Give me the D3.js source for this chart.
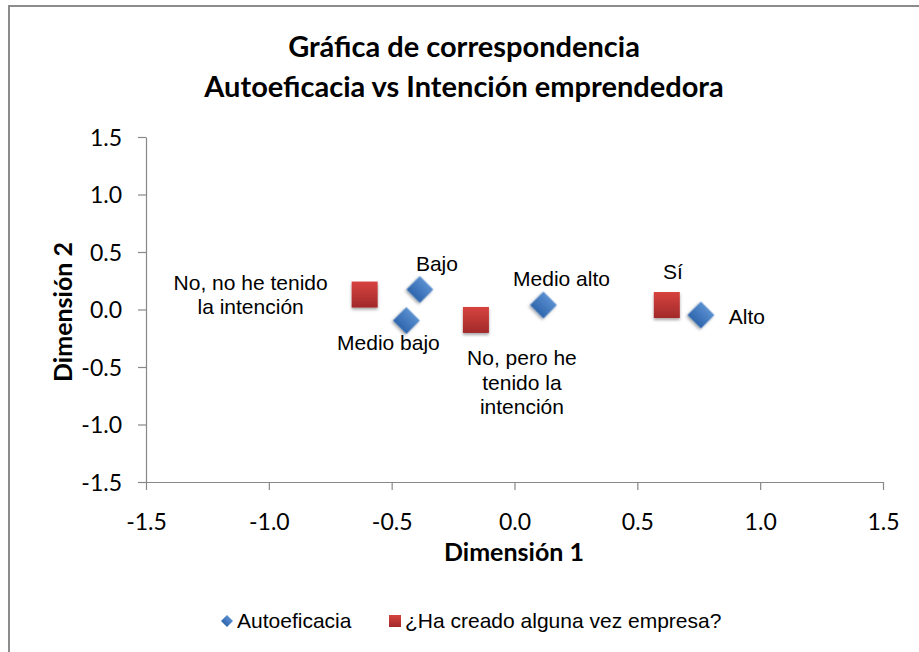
<!DOCTYPE html>
<html><head><meta charset="utf-8">
<script src="https://cdn.jsdelivr.net/npm/d3@7/dist/d3.min.js"></script>
<style>body{margin:0;background:#fff}svg{display:block}</style>
</head><body>
<script>
// Data
const autoLabels = ["Bajo", "Medio bajo", "Medio alto", "Alto"];
const autoX = [-0.385, -0.44, 0.118, 0.759];
const autoY = [0.174, -0.096, 0.039, -0.048];
const empLabels = ["No, no he tenido|la intención", "No, pero he|tenido la|intención", "Sí"];
const empX = [-0.61, -0.157, 0.62];
const empY = [0.13, -0.091, 0.039];
const xTicks = [-1.5, -1.0, -0.5, 0.0, 0.5, 1.0, 1.5];
const yTicks = [-1.5, -1.0, -0.5, 0.0, 0.5, 1.0, 1.5];
const seriesNames = ["Autoeficacia", "¿Ha creado alguna vez empresa?"];
const titleLines = ["Gráfica de correspondencia", "Autoeficacia vs Intención emprendedora"];

const W = 919, H = 652;
const svg = d3.select("body").append("svg").attr("width", W).attr("height", H);
const defs = svg.append("defs");
const gb = defs.append("linearGradient").attr("id","gBlue").attr("x1",0).attr("y1",0).attr("x2",0).attr("y2",1);
gb.append("stop").attr("offset","0%").attr("stop-color","#5a8fd0");
gb.append("stop").attr("offset","100%").attr("stop-color","#2f66ad");
const gr = defs.append("linearGradient").attr("id","gRed").attr("x1",0).attr("y1",0).attr("x2",0).attr("y2",1);
gr.append("stop").attr("offset","0%").attr("stop-color","#d6433f");
gr.append("stop").attr("offset","100%").attr("stop-color","#a2292a");
const f = defs.append("filter").attr("id","shadow").attr("x","-50%").attr("y","-50%").attr("width","200%").attr("height","200%");
f.append("feDropShadow").attr("dx",0).attr("dy",2).attr("stdDeviation",1.5).attr("flood-color","#000").attr("flood-opacity",0.35);

// outer border
svg.append("rect").attr("x",9).attr("y",6).attr("width",W).attr("height",H)
  .attr("fill","#fff").attr("stroke","#8c8c8c").attr("stroke-width",2);

const x = d3.scaleLinear().domain([-1.5,1.5]).range([146,883]);
const y = d3.scaleLinear().domain([-1.5,1.5]).range([482,137]);

// Title
const calibri = "Lato, 'Open Sans', sans-serif";
svg.append("g").selectAll("text").data(titleLines).join("text")
  .attr("x", 464).attr("y",(d,i)=>57+i*40).attr("text-anchor","middle")
  .attr("font-family",calibri).attr("font-weight","bold").attr("font-size",29).attr("fill","#000")
  .text(d=>d);

// Axes
const xAxis = d3.axisBottom(x).tickValues(xTicks).tickFormat(d3.format(".1f")).tickSize(8).tickSizeOuter(0);
const yAxis = d3.axisLeft(y).tickValues(yTicks).tickFormat(d3.format(".1f")).tickSize(8).tickSizeOuter(0);
const gx = svg.append("g").attr("transform",`translate(0,${y(-1.5)})`).call(xAxis);
const gy = svg.append("g").attr("transform",`translate(${x(-1.5)},0)`).call(yAxis);
[gx,gy].forEach(g=>{
  g.select(".domain").attr("stroke","#888").attr("stroke-width",1.2);
  g.selectAll(".tick line").attr("stroke","#888").attr("stroke-width",1.2);
  g.selectAll(".tick text").attr("font-family",calibri).attr("font-size",23).attr("fill","#000");
});
gx.selectAll(".tick text").attr("dy","0").attr("y",48);
gy.selectAll(".tick text").attr("x",-24).attr("dy","0.35em");
gx.selectAll(".tick text").text(d=>d3.format(".1f")(d).replace("−","-"));
gy.selectAll(".tick text").text(d=>d3.format(".1f")(d).replace("−","-"));

// Axis titles
svg.append("text").attr("x",514).attr("y",561).attr("text-anchor","middle")
  .attr("font-family",calibri).attr("font-weight","bold").attr("font-size",25).text("Dimensión 1");
svg.append("text").attr("transform","translate(72,312) rotate(-90)").attr("text-anchor","middle")
  .attr("font-family",calibri).attr("font-weight","bold").attr("font-size",25).text("Dimensión 2");

// Markers
const arial = "'Liberation Sans', Arial, sans-serif";
const auto = autoLabels.map((l,i)=>({l, x:autoX[i], y:autoY[i]}));
const emp = empLabels.map((l,i)=>({l, x:empX[i], y:empY[i]}));

svg.append("g").selectAll("rect").data(emp).join("rect")
  .attr("x",d=>x(d.x)-13).attr("y",d=>y(d.y)-13).attr("width",26).attr("height",26)
  .attr("fill","url(#gRed)").attr("filter","url(#shadow)");
svg.append("g").selectAll("path").data(auto).join("path")
  .attr("d", d3.symbol().type(d3.symbolSquare).size(19*19))
  .attr("transform",d=>`translate(${x(d.x)},${y(d.y)}) rotate(45)`)
  .attr("fill","url(#gBlue)").attr("filter","url(#shadow)");

// Labels (offsets relative to points)
const autoOff = [[17,-26],[-18,22],[18,-26],[46,2]];
const empOff = [[-114,-12],[46,38],[6,-33]];
const lab = svg.append("g").attr("font-family",arial).attr("font-size",21).attr("fill","#000").attr("text-anchor","middle");
auto.forEach((d,i)=>{
  lab.append("text").attr("x",x(d.x)+autoOff[i][0]).attr("y",y(d.y)+autoOff[i][1]).attr("dy","0.35em").text(d.l);
});
emp.forEach((d,i)=>{
  const lines = d.l.split("|");
  const t = lab.append("text").attr("x",x(d.x)+empOff[i][0]).attr("y",y(d.y)+empOff[i][1]);
  lines.forEach((ln,j)=>t.append("tspan").attr("x",x(d.x)+empOff[i][0]).attr("dy", j===0?"0.35em":"1.17em").text(ln));
});

// Legend
const lg = svg.append("g").attr("font-family",arial).attr("font-size",21);
lg.append("path").attr("d", d3.symbol().type(d3.symbolSquare).size(8.5*8.5)).attr("transform","translate(227,621) rotate(45)").attr("fill","url(#gBlue)");
lg.append("text").attr("x",237).attr("y",621).attr("dy","0.35em").text(seriesNames[0]);
lg.append("rect").attr("x",389).attr("y",615).attr("width",12).attr("height",12).attr("fill","url(#gRed)");
lg.append("text").attr("x",405).attr("y",621).attr("dy","0.35em").text(seriesNames[1]);
</script>
</body></html>
